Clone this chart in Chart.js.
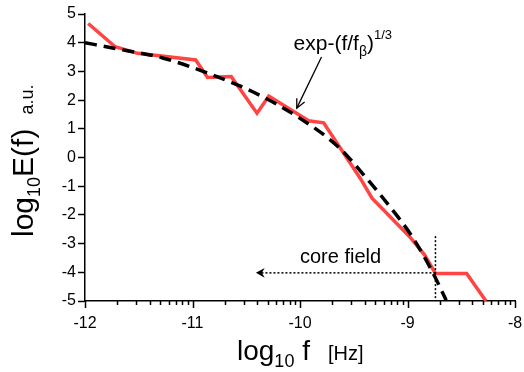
<!doctype html>
<html>
<head>
<meta charset="UTF-8">
<script src="https://cdn.jsdelivr.net/npm/chart.js"></script>
<style>
  html, body { margin: 0; padding: 0; background: #fff; }
  #wrap { width: 524px; height: 372px; }
</style>
</head>
<body>
<div id="wrap"><canvas id="spectrum" width="524" height="372"></canvas></div>
<script>
  // measured spectrum (red line), log10 f vs log10 E(f)
  const specX = [-11.97, -11.72, -11.51, -10.97, -10.86, -10.64, -10.40, -10.29, -9.92, -9.78, -9.44, -9.33, -8.98, -8.84, -8.74, -8.45, -8.27];
  const specY = [4.67, 3.86, 3.63, 3.40, 2.79, 2.82, 1.54, 2.14, 1.28, 1.21, -0.72, -1.42, -2.76, -3.40, -4.04, -4.04, -5.0];

  // stretched exponential fit (black dashed)
  const fitX = [-12.0, -11.72, -11.27, -10.81, -10.44, -10.01, -9.64, -9.42, -9.15, -8.96, -8.78, -8.64];
  const fitY = [4.0, 3.80, 3.46, 2.87, 2.29, 1.39, 0.36, -0.55, -1.78, -2.74, -3.90, -4.97];

  const xMajor = [-12, -11, -10, -9, -8];
  const yMajor = [-5, -4, -3, -2, -1, 0, 1, 2, 3, 4, 5];

  // annotation anchors (data units)
  const fitLabel = { x: -10.06, y: 3.76 };
  const fitArrow = { x1: -9.80, y1: 3.50, x2: -10.03, y2: 1.72 };
  const coreLabel = { x: -10.0, y: -3.68 };
  const coreArrow = { x1: -8.74, x2: -10.41, y: -4.02 };
  const coreMark = { x: -8.74, yTop: -2.74 };

  const FONT = 'Liberation Sans, Arial, sans-serif';

  // log-style minor ticks inside every decade
  let allTicks = [];
  xMajor.forEach((v, i) => {
    allTicks.push(v);
    if (i < xMajor.length - 1) {
      for (let k = 2; k <= 9; k++) allTicks.push(v + Math.log10(k));
    }
  });

  function runs(ctx, parts, x, y) {
    parts.forEach(p => {
      ctx.font = p.size + 'px ' + FONT;
      x += p.gap || 0;
      ctx.fillText(p.t, x, y + (p.dy || 0));
      x += ctx.measureText(p.t).width;
    });
  }

  function arrowHead(ctx, tx, ty, fx, fy, len, half, filled) {
    const a = Math.atan2(ty - fy, tx - fx);
    const p1 = [tx - len * Math.cos(a - half), ty - len * Math.sin(a - half)];
    const p2 = [tx - len * Math.cos(a + half), ty - len * Math.sin(a + half)];
    ctx.beginPath();
    if (filled) {
      const n = [tx - len * 0.6 * Math.cos(a), ty - len * 0.6 * Math.sin(a)];
      ctx.moveTo(tx, ty); ctx.lineTo(p1[0], p1[1]); ctx.lineTo(n[0], n[1]); ctx.lineTo(p2[0], p2[1]);
      ctx.closePath(); ctx.fill();
    } else {
      ctx.moveTo(p1[0], p1[1]); ctx.lineTo(tx, ty); ctx.lineTo(p2[0], p2[1]);
      ctx.stroke();
    }
  }

  const extras = {
    id: 'extras',
    afterDraw(chart) {
      const ctx = chart.ctx;
      const xs = chart.scales.x, ys = chart.scales.y;
      const area = chart.chartArea;
      ctx.save();
      ctx.fillStyle = '#000';
      ctx.strokeStyle = '#000';

      // x ticks: long on decades, short in between
      ctx.lineWidth = 1.5;
      allTicks.forEach(v => {
        const px = Math.round(xs.getPixelForValue(v)) + 0.5;
        const len = Number.isInteger(v) ? 7 : 4;
        ctx.beginPath();
        ctx.moveTo(px, area.bottom);
        ctx.lineTo(px, area.bottom + len);
        ctx.stroke();
      });

      // axis titles
      ctx.textBaseline = 'alphabetic';
      ctx.textAlign = 'left';
      runs(ctx, [
        { t: 'log', size: 28 },
        { t: '10', size: 18, dy: 7 },
        { t: ' f', size: 28 },
        { t: '[Hz]', size: 20, gap: 18 }
      ], 237, 360);

      ctx.save();
      ctx.translate(33, 237);
      ctx.rotate(-Math.PI / 2);
      runs(ctx, [
        { t: 'log', size: 30 },
        { t: '10', size: 18, dy: 7 },
        { t: 'E(f)', size: 30 },
        { t: 'a.u.', size: 18, gap: 14 }
      ], 0, 0);
      ctx.restore();

      // fit label and arrow
      runs(ctx, [
        { t: 'exp-(f/f', size: 21 },
        { t: 'β', size: 14, dy: 6 },
        { t: ')', size: 21 },
        { t: '1/3', size: 13, dy: -11 }
      ], xs.getPixelForValue(fitLabel.x), ys.getPixelForValue(fitLabel.y));

      const ax1 = xs.getPixelForValue(fitArrow.x1), ay1 = ys.getPixelForValue(fitArrow.y1);
      const ax2 = xs.getPixelForValue(fitArrow.x2), ay2 = ys.getPixelForValue(fitArrow.y2);
      ctx.lineWidth = 1.3;
      ctx.beginPath(); ctx.moveTo(ax1, ay1); ctx.lineTo(ax2, ay2); ctx.stroke();
      arrowHead(ctx, ax2, ay2, ax1, ay1, 10, 0.45, false);

      // core field marker
      runs(ctx, [{ t: 'core field', size: 20 }],
        xs.getPixelForValue(coreLabel.x), ys.getPixelForValue(coreLabel.y));

      ctx.setLineDash([2, 2]);
      ctx.lineWidth = 1.5;
      const cx = xs.getPixelForValue(coreMark.x);
      ctx.beginPath();
      ctx.moveTo(cx, ys.getPixelForValue(coreMark.yTop));
      ctx.lineTo(cx, area.bottom);
      ctx.stroke();

      const cy = ys.getPixelForValue(coreArrow.y);
      const hx = xs.getPixelForValue(coreArrow.x2);
      ctx.beginPath();
      ctx.moveTo(xs.getPixelForValue(coreArrow.x1), cy);
      ctx.lineTo(hx + 6, cy);
      ctx.stroke();
      ctx.setLineDash([]);
      arrowHead(ctx, hx, cy, hx + 10, cy, 10, 0.5, true);

      ctx.restore();
    }
  };

  const ctx = document.getElementById('spectrum').getContext('2d');
  const chart = new Chart(ctx, {
    type: 'line',
    data: {
      datasets: [{
        label: 'fit',
        data: fitX.map((x, i) => ({ x: x, y: fitY[i] })),
        borderColor: '#000',
        borderWidth: 3.5,
        borderDash: [12, 7],
        borderCapStyle: 'butt',
        cubicInterpolationMode: 'monotone',
        pointRadius: 0,
        fill: false
      }, {
        label: 'spectrum',
        data: specX.map((x, i) => ({ x: x, y: specY[i] })),
        borderColor: 'rgb(255, 68, 68)',
        borderWidth: 3.5,
        tension: 0,
        pointRadius: 0,
        fill: false
      }]
    },
    options: {
      responsive: false,
      animation: false,
      devicePixelRatio: 1,
      layout: { padding: { top: 14, right: 9, left: 0, bottom: 0 } },
      plugins: { legend: { display: false }, tooltip: { enabled: false } },
      scales: {
        x: {
          type: 'linear',
          min: -12,
          max: -8,
          afterBuildTicks: s => { s.ticks = allTicks.map(v => ({ value: v })); },
          afterFit: s => { s.height = 71; s.paddingLeft = 0; s.paddingRight = 0; },
          ticks: {
            autoSkip: false,
            maxRotation: 0,
            padding: 13,
            color: '#000',
            font: { family: FONT, size: 16 },
            callback: v => Number.isInteger(v) ? String(v) : ''
          },
          grid: { drawOnChartArea: false, drawTicks: false },
          border: { color: '#000', width: 1.5 }
        },
        y: {
          type: 'linear',
          min: -5,
          max: 5,
          afterBuildTicks: s => { s.ticks = yMajor.map(v => ({ value: v })); },
          afterFit: s => { s.width = 85; s.paddingTop = 0; s.paddingBottom = 0; },
          ticks: {
            padding: 2,
            color: '#000',
            font: { family: FONT, size: 16 }
          },
          grid: { drawOnChartArea: false, tickLength: 7, color: '#000', tickWidth: 1.5 },
          border: { color: '#000', width: 1.5 }
        }
      }
    },
    plugins: [extras]
  });
</script>
</body>
</html>
